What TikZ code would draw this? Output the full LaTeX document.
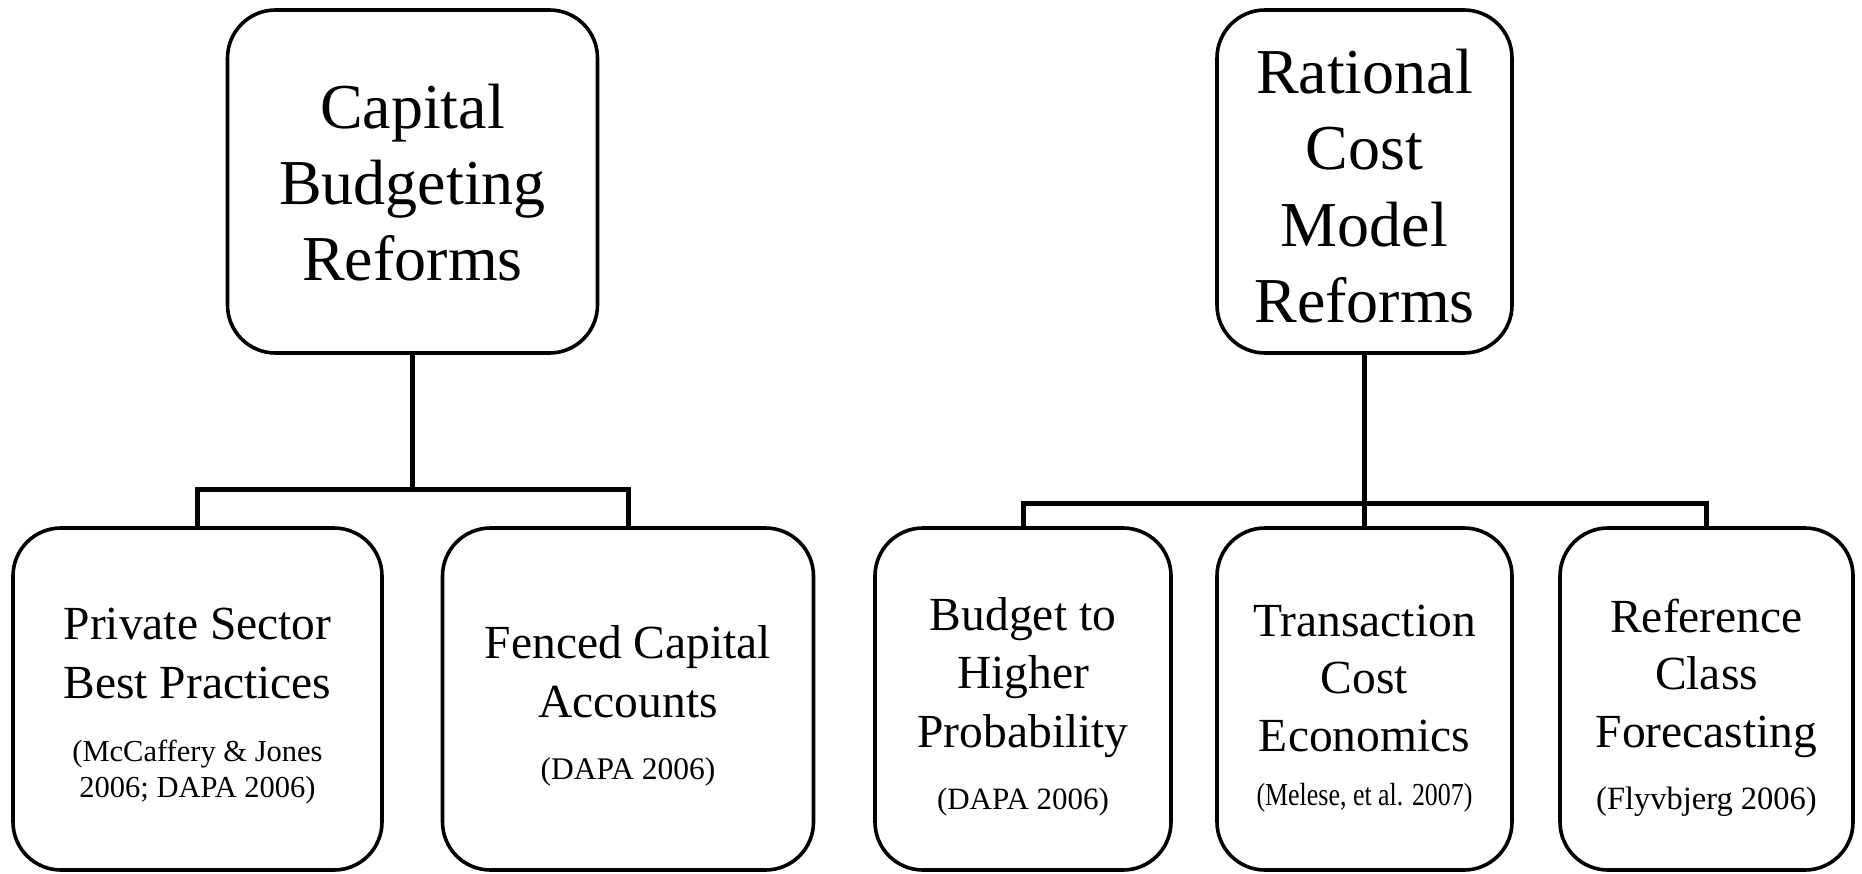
\documentclass[tikz,border=0pt]{standalone}
\usepackage{fontspec}
\setmainfont{Liberation Serif}
\newcommand\fsz[2]{\fontsize{#1pt}{#2pt}\selectfont}
\tikzset{
  box/.style={draw, line width=3.6pt, rounded corners=48pt, fill=white, inner sep=0pt, minimum height=342pt},
  link/.style={line width=5pt},
  txt/.style={align=center, inner sep=0pt, anchor=north},
}
\begin{document}
\begin{tikzpicture}[x=1pt,y=-1pt]
\useasboundingbox (0,0) rectangle (1862,873);
% boxes
\node[box, minimum width=370pt, minimum height=343pt] (T1) at (412.5,181.5) {};
\node[box, minimum width=295pt, minimum height=343pt] (T2) at (1364.5,181.5) {};
\node[box, minimum width=369pt] (B1) at (197.5,699) {};
\node[box, minimum width=371pt] (B2) at (628,699) {};
\node[box, minimum width=296pt] (B3) at (1023,699) {};
\node[box, minimum width=295pt] (B4) at (1364.5,699) {};
\node[box, minimum width=293pt] (B5) at (1706.5,699) {};
% connectors
\coordinate (J1) at (412.5,489);
\coordinate (J2) at (1364.5,503);
\draw[link] (B1.north) |- (J1) -| (B2.north);
\draw[link] (T1.south) -- (J1);
\draw[link] (B3.north) |- (J2) -| (B5.north);
\draw[link] (T2.south) -- (B4.north);
% texts
\node[txt, font=\fsz{64}{76}] (T1t) at (412.5,64) {\rule{0pt}{1em}Capital\\Budgeting\\Reforms};
\node[txt, font=\fsz{64}{76.5}] (T2t) at (1364.5,29) {\rule{0pt}{1em}Rational\\Cost\\Model\\Reforms};
\node[txt, font=\fsz{47.5}{59}] (B1t) at (197.5,591.5) {\rule{0pt}{1em}Private Sector\\Best Practices};
\node[txt, font=\fsz{30.5}{36}] (B1c) at (197.5,730.5) {\rule{0pt}{1em}(McCaffery \& Jones\\2006; DAPA 2006)};
\node[txt, font=\fsz{47.5}{59}] (B2t) at (628,611) {\rule{0pt}{1em}Fenced Capital\\Accounts};
\node[txt, font=\fsz{31.5}{36}] (B2c) at (628,748) {\rule{0pt}{1em}(DAPA 2006)};
\node[txt, font=\fsz{47.5}{58.5}] (B3t) at (1023,582.5) {\rule{0pt}{1em}Budget to\\Higher\\Probability};
\node[txt, font=\fsz{31}{36}] (B3c) at (1023,778) {\rule{0pt}{1em}(DAPA 2006)};
\node[txt, font=\fsz{47.5}{57.5}] (B4t) at (1364.5,588.5) {\rule{0pt}{1em}Transaction\\Cost\\Economics};
\node[txt, font=\fsz{32}{36}] (B4c) at (1364.5,773) {\rule{0pt}{1em}\scalebox{0.81}[1]{(Melese, et al. 2007)}};
\node[txt, font=\fsz{47.5}{57.5}] (B5t) at (1706.5,584.5) {\rule{0pt}{1em}Reference\\Class\\Forecasting};
\node[txt, font=\fsz{32.5}{36}] (B5c) at (1706.5,776.5) {\rule{0pt}{1em}(Flyvbjerg 2006)};
\end{tikzpicture}
\end{document}
